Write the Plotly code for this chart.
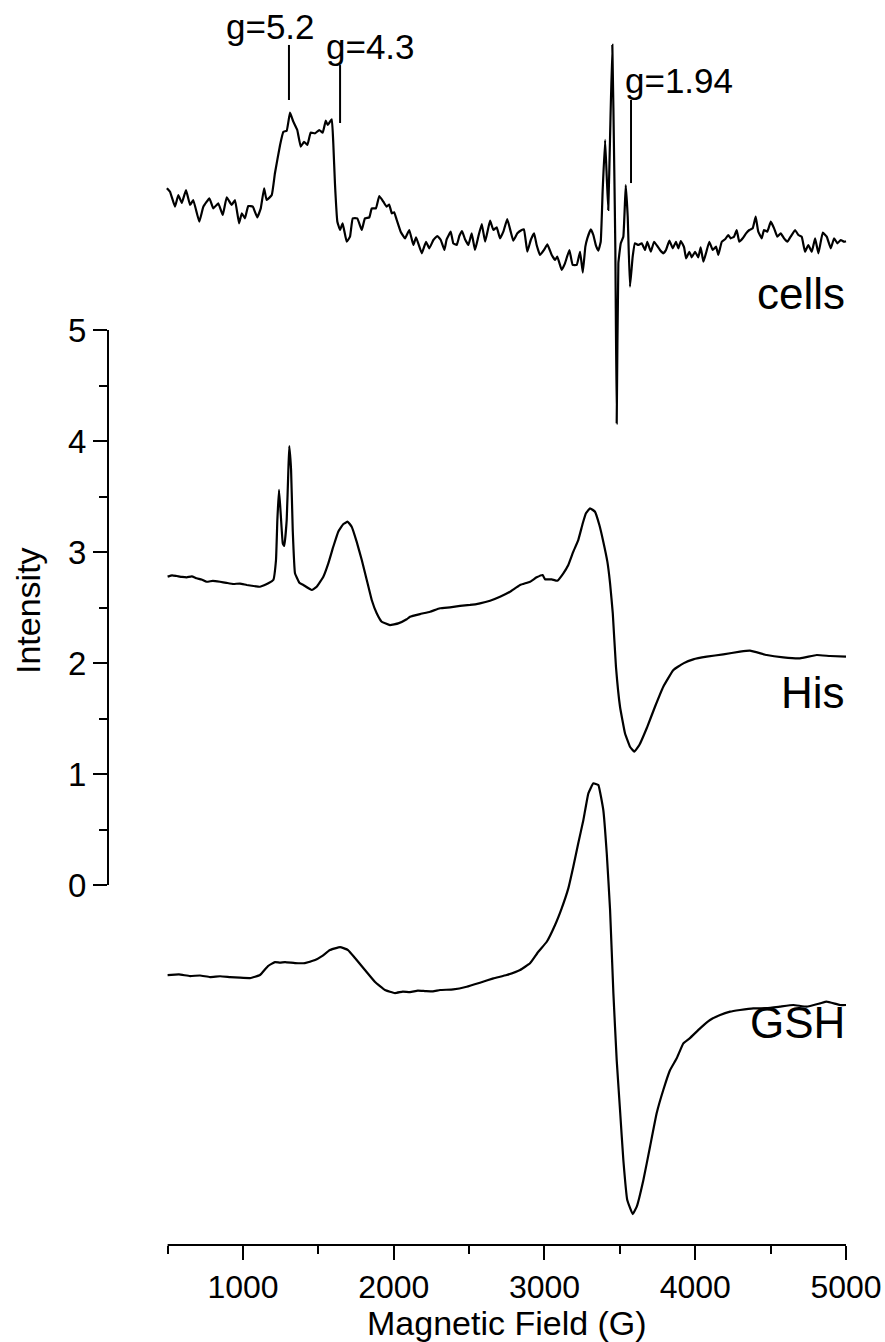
import plotly.graph_objects as go

# ---------------- data (field in G, intensity in arbitrary units) ----------------
cells_field = [495, 516, 549, 571, 594, 622, 649, 670, 710, 737, 777, 803, 836, 866, 892, 925, 947, 974, 992,
               1013, 1035, 1065, 1095, 1118, 1140, 1157, 1191, 1212, 1246, 1268, 1290, 1312, 1334, 1360, 1383,
               1405, 1427, 1449, 1478, 1506, 1529, 1549, 1562, 1589, 1599, 1610, 1626, 1644, 1661, 1688, 1710,
               1728, 1758, 1788, 1809, 1838, 1854, 1882, 1904, 1931, 1953, 1970, 1987, 2003, 2020, 2046, 2075,
               2103, 2130,
               2148, 2186, 2214, 2236, 2263, 2289, 2312, 2336, 2351, 2378, 2395, 2418, 2435, 2453, 2473, 2495,
               2517, 2539, 2561, 2584, 2606, 2639, 2661, 2683, 2705, 2727, 2753, 2776, 2793, 2820, 2849, 2864,
               2886, 2909, 2931, 2948, 2970, 2997, 3019, 3048, 3070, 3085, 3114, 3136, 3165, 3187, 3214, 3236,
               3254, 3271, 3284, 3307, 3324, 3342, 3357, 3373, 3386, 3402, 3413, 3423, 3435, 3450, 3463, 3470,
               3479, 3490, 3506, 3523, 3539, 3552, 3567, 3585, 3600, 3622, 3645, 3667, 3682, 3705, 3727, 3748,
               3766, 3788, 3806, 3828, 3851, 3872, 3888, 3904, 3926, 3939, 3961, 3977, 3999, 4020, 4036, 4054,
               4072, 4093, 4116, 4138, 4153, 4176, 4198, 4219, 4235, 4257, 4275, 4292, 4315, 4337, 4359, 4381,
               4401, 4418, 4441, 4456, 4478, 4501, 4523, 4544, 4567, 4589, 4611, 4633, 4662, 4684, 4706, 4728,
               4750, 4773, 4795, 4817, 4846, 4872, 4899, 4921, 4943, 4965, 4987, 5000]
cells_int = [6.277, 6.246, 6.111, 6.216, 6.144, 6.261, 6.126, 6.171, 5.976, 6.111, 6.186, 6.096, 6.141, 6.036,
             6.195, 6.126, 6.171, 5.961, 6.051, 6.006, 6.117, 6.111, 6.015, 6.096, 6.277, 6.171, 6.216, 6.412,
             6.667, 6.786, 6.795, 6.958, 6.877, 6.802, 6.652, 6.696, 6.667, 6.778, 6.772, 6.802, 6.778, 6.886,
             6.847, 6.898, 6.682, 6.322, 5.976, 5.901, 5.961, 5.795, 5.841, 6.006, 6.006, 5.901, 6.006, 6.015,
             6.096, 6.096, 6.207, 6.156, 6.111, 6.131, 6.051, 6.061, 5.991, 5.886, 5.826, 5.901, 5.766,
             5.835, 5.691, 5.795,
             5.736, 5.811, 5.847, 5.811, 5.721, 5.817, 5.886, 5.781, 5.766, 5.847, 5.892, 5.817, 5.766, 5.871,
             5.721, 5.841, 5.955, 5.795, 5.985, 5.901, 5.925, 5.826, 5.886, 6.000, 5.886, 5.805, 5.871, 5.901,
             5.907, 5.705, 5.811, 5.871, 5.766, 5.676, 5.721, 5.772, 5.676, 5.631, 5.661, 5.541, 5.601, 5.721,
             5.586, 5.586, 5.705, 5.517, 5.751, 5.826, 5.907, 5.856, 5.757, 5.715, 5.795, 6.261, 6.712, 6.381,
             6.081, 6.741, 7.568, 6.441, 5.721, 4.159, 5.601, 5.781, 5.841, 6.306, 6.021, 5.390, 5.661, 5.781,
             5.766, 5.781, 5.721, 5.795, 5.705, 5.795, 5.757, 5.721, 5.691, 5.721, 5.805, 5.736, 5.795, 5.736,
             5.802, 5.745, 5.646, 5.705, 5.655, 5.705, 5.655, 5.745, 5.615, 5.696, 5.795, 5.721, 5.751, 5.676,
             5.795, 5.817, 5.856, 5.826, 5.841, 5.901, 5.795, 5.826, 5.871, 5.901, 5.916, 6.021, 5.886, 5.826,
             5.901, 5.886, 5.976, 5.916, 5.841, 5.871, 5.826, 5.795, 5.841, 5.901, 5.856, 5.841, 5.705, 5.766,
             5.705, 5.826, 5.691, 5.877, 5.841, 5.736, 5.826, 5.781, 5.811, 5.795, 5.800]

his_field = [500, 530, 560, 595, 627, 660, 693, 725, 759, 800, 848, 890, 936, 980, 1025, 1070, 1113, 1140, 1168,
             1201, 1219, 1228, 1239, 1250, 1264, 1274,
             1290, 1301, 1307, 1319, 1330, 1345, 1374, 1400, 1456, 1489, 1533, 1566, 1599, 1632, 1666, 1695,
             1721, 1754, 1788, 1821, 1854, 1887, 1920, 1975, 2030, 2086, 2108, 2174, 2241, 2307, 2373, 2440,
             2506, 2572, 2639, 2705, 2771, 2838, 2904, 2948, 2988, 3003, 3048, 3085, 3125, 3158, 3191, 3224,
             3254, 3275, 3302, 3335, 3364, 3390, 3417, 3435, 3453, 3474, 3501, 3534, 3567, 3596, 3629, 3678,
             3733, 3788, 3855, 3921, 3987, 4076, 4186, 4297, 4363, 4474, 4584, 4695, 4806, 4894, 5000]
his_int = [2.778, 2.790, 2.784, 2.776, 2.772, 2.780, 2.763, 2.752, 2.732, 2.740, 2.732, 2.722, 2.712, 2.716,
           2.703, 2.694, 2.687, 2.700, 2.718, 2.748, 2.928, 3.288, 3.559,
           3.349, 3.078, 3.054, 3.288, 3.739, 3.955, 3.739, 3.198, 2.808, 2.723, 2.703, 2.658, 2.687, 2.778,
           2.898, 3.048, 3.183, 3.252, 3.273, 3.228, 3.093, 2.928, 2.748, 2.568, 2.448, 2.372, 2.342, 2.357,
           2.394, 2.417, 2.441, 2.462, 2.493, 2.502, 2.514, 2.523, 2.538, 2.561, 2.597, 2.642, 2.703, 2.732,
           2.772, 2.793, 2.754, 2.754, 2.741, 2.808, 2.883, 3.003, 3.108, 3.259, 3.349, 3.394, 3.363, 3.243,
           3.093, 2.913, 2.718, 2.448, 1.967, 1.606, 1.367, 1.246, 1.201, 1.261, 1.412, 1.606, 1.786, 1.937,
           1.997, 2.033, 2.057, 2.078, 2.102, 2.111, 2.072, 2.051, 2.042, 2.072, 2.063, 2.057]

gsh_field = [500, 575, 649, 715, 781, 848, 914, 980, 1047, 1113, 1166, 1212, 1245, 1279, 1345, 1411, 1478, 1524,
             1577, 1644, 1697, 1743,
             1809, 1876, 1942, 2008, 2060, 2108, 2160, 2207, 2260, 2307, 2395, 2484, 2572, 2661, 2749, 2838, 2904,
             2959, 3015,
             3070, 3114, 3158, 3191, 3224, 3258, 3291, 3324, 3357, 3390, 3413, 3435, 3457, 3479, 3501, 3523,
             3549, 3585, 3612, 3656, 3700, 3744, 3788, 3833, 3877, 3921, 3963, 4032, 4098, 4165, 4231, 4297,
             4385, 4474, 4562, 4651, 4739, 4828, 4872, 4960, 5000]
gsh_int = [-0.811, -0.805, -0.820, -0.815, -0.829, -0.822, -0.829, -0.835, -0.838, -0.811, -0.730, -0.694,
           -0.700, -0.694, -0.703, -0.703, -0.676,
           -0.640, -0.586, -0.559, -0.586, -0.658, -0.766, -0.874, -0.946, -0.973, -0.960, -0.964, -0.952,
           -0.955, -0.958, -0.946,
           -0.940, -0.916, -0.880, -0.841, -0.811, -0.766, -0.705, -0.601, -0.511, -0.360, -0.210, -0.030,
           0.165, 0.376, 0.586, 0.826, 0.916, 0.901, 0.676, 0.286, -0.225, -0.976, -1.577, -2.027, -2.477,
           -2.838, -2.964, -2.898, -2.658, -2.358, -2.057, -1.847, -1.667, -1.561, -1.426, -1.381, -1.291,
           -1.216, -1.171, -1.141, -1.126, -1.111, -1.111, -1.096, -1.081, -1.096, -1.066, -1.051, -1.081, -1.081]

series_names = ["cells", "His", "GSH"]

x_major_ticks = [1000, 2000, 3000, 4000, 5000]
x_minor_ticks = [500, 1500, 2500, 3500, 4500]
y_major_ticks = [0, 1, 2, 3, 4, 5]
y_minor_ticks = [0.5, 1.5, 2.5, 3.5, 4.5]

g_labels = ["g=5.2", "g=4.3", "g=1.94"]
g_fields = [1305, 1644, 3574]

# ---------------- figure ----------------
FONT = "Liberation Sans, Arial, sans-serif"
fig = go.Figure()
for name, xs, ys in [("cells", cells_field, cells_int), ("His", his_field, his_int), ("GSH", gsh_field, gsh_int)]:
    fig.add_trace(go.Scatter(x=xs, y=ys, mode="lines", name=name,
                             line=dict(color="black", width=2.2, shape="spline", smoothing=0.3),
                             showlegend=False))

X_RANGE = [104.6, 5258.7]
Y_RANGE = [-3.243, 7.973]

fig.update_layout(
    width=885, height=1342,
    margin=dict(l=108, r=0, t=0, b=97),
    paper_bgcolor="white", plot_bgcolor="white",
    font=dict(family=FONT, color="black", size=32),
    xaxis=dict(range=X_RANGE, showgrid=False, zeroline=False, showline=False,
               tickmode="array", tickvals=x_major_ticks, ticktext=[str(v) for v in x_major_ticks],
               ticks="outside", ticklen=14, tickwidth=2, tickcolor="black",
               tickfont=dict(size=32, family=FONT),
               minor=dict(tickmode="array", tickvals=x_minor_ticks, ticks="outside",
                          ticklen=8, tickwidth=2, tickcolor="black")),
    yaxis=dict(range=Y_RANGE, showgrid=False, zeroline=False, showline=False,
               tickmode="array", tickvals=y_major_ticks, ticktext=[str(v) for v in y_major_ticks],
               ticks="outside", ticklen=14, tickwidth=2, tickcolor="black",
               tickfont=dict(size=33, family=FONT),
               minor=dict(tickmode="array", tickvals=y_minor_ticks, ticks="outside",
                          ticklen=8, tickwidth=2, tickcolor="black")),
)

# axis lines (only across the labelled spans)
fig.add_shape(type="line", xref="x", yref="paper", x0=x_minor_ticks[0], x1=x_major_ticks[-1], y0=0, y1=0,
              line=dict(color="black", width=2))
fig.add_shape(type="line", xref="paper", yref="y", x0=0, x1=0, y0=y_major_ticks[0], y1=y_major_ticks[-1],
              line=dict(color="black", width=2))

# axis titles
fig.add_annotation(text="Magnetic Field (G)", xref="x", yref="paper", x=2750, y=-0.063,
                   showarrow=False, font=dict(size=34, family=FONT), yanchor="middle")
fig.add_annotation(text="Intensity", xref="paper", yref="paper", x=-0.103, y=0.51, textangle=-90,
                   showarrow=False, font=dict(size=34, family=FONT), xanchor="center", yanchor="middle")

# series labels
label_pos = {"cells": 5.33, "His": 1.73, "GSH": -1.24}
for nm in series_names:
    fig.add_annotation(text=nm, xref="x", yref="y", x=5005, y=label_pos[nm], xanchor="right",
                       yanchor="middle", showarrow=False, font=dict(size=44, family=FONT))

# g-value markers
g_line = [(7.568, 7.072), (7.387, 6.865), (7.072, 6.324)]
g_text = [(1180, 7.73), (1843, 7.55), (3895, 7.252)]
for lab, gx, (ya, yb), (tx, ty) in zip(g_labels, g_fields, g_line, g_text):
    fig.add_shape(type="line", xref="x", yref="y", x0=gx, x1=gx, y0=yb, y1=ya,
                  line=dict(color="black", width=2))
    fig.add_annotation(text=lab, xref="x", yref="y", x=tx, y=ty, showarrow=False,
                       font=dict(size=35, family=FONT), xanchor="center", yanchor="middle")

fig.write_html("out.html")
